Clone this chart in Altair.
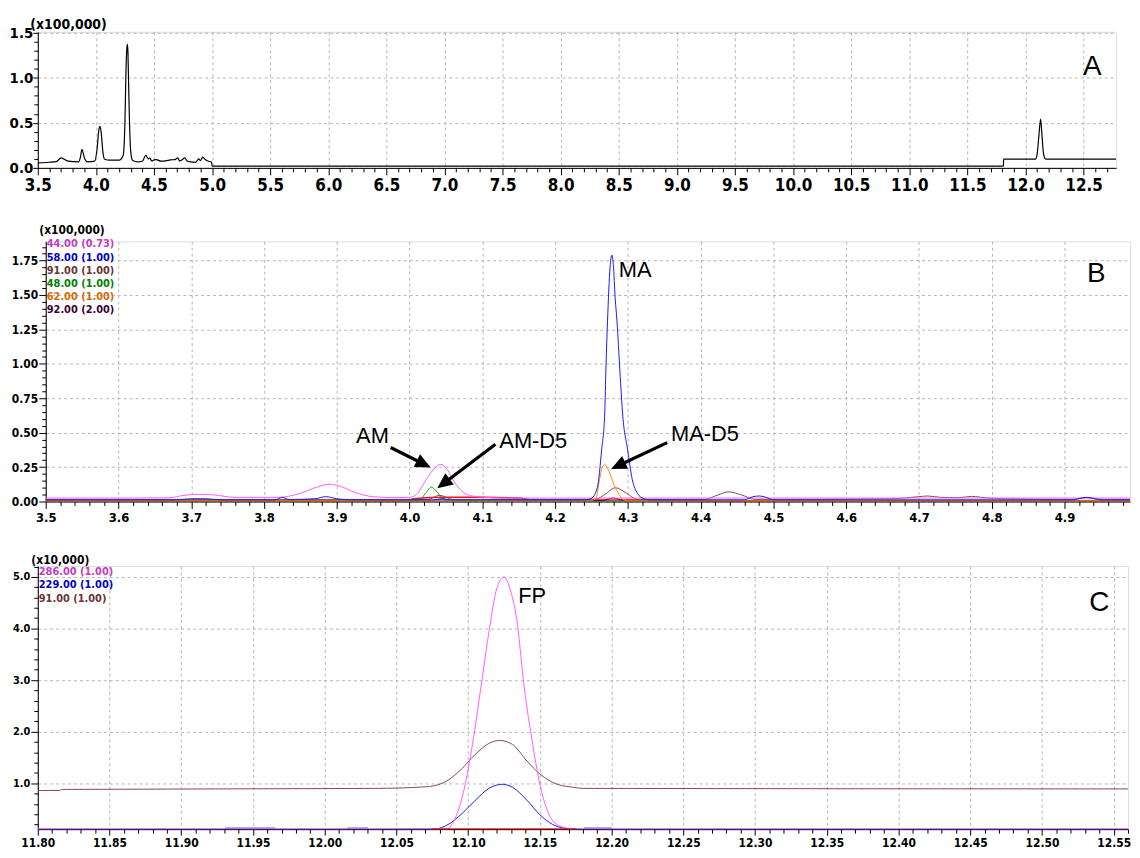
import math
import altair as alt
import pandas as pd

NARROW = "Liberation Sans Narrow, DejaVu Sans Condensed, Arial Narrow, Liberation Sans, sans-serif"
ARIAL = "Liberation Sans, Arial, Helvetica, sans-serif"

# ---------------- Panel A : TIC (x100,000) ----------------
A_TIME = [3.50, 3.60, 3.66, 3.70, 3.76, 3.85, 3.867, 3.88, 3.893, 3.905,
          3.93, 3.99, 4.01, 4.025, 4.034, 4.045, 4.06, 4.075, 4.12, 4.20,
          4.235, 4.25, 4.258, 4.266, 4.271, 4.276, 4.282, 4.29, 4.30, 4.315,
          4.36, 4.40, 4.43, 4.45, 4.465, 4.48, 4.50, 4.52, 4.56, 4.60,
          4.64, 4.68, 4.705, 4.72, 4.74, 4.765, 4.785, 4.82, 4.86, 4.885,
          4.90, 4.92, 4.94, 4.97, 4.995, 5.00, 11.81, 11.812, 12.085, 12.10,
          12.115, 12.13, 12.14, 12.155, 12.17, 12.18, 12.78]
A_INT = [0.055, 0.062, 0.07, 0.11, 0.074, 0.066, 0.12, 0.206, 0.15, 0.096,
         0.066, 0.074, 0.21, 0.415, 0.46, 0.40, 0.18, 0.096, 0.085, 0.085,
         0.14, 0.51, 1.02, 1.32, 1.37, 1.28, 0.91, 0.47, 0.18, 0.085,
         0.066, 0.074, 0.14, 0.10, 0.11, 0.077, 0.088, 0.092, 0.074, 0.077,
         0.088, 0.092, 0.11, 0.077, 0.088, 0.11, 0.077, 0.066, 0.062, 0.10,
         0.08, 0.12, 0.092, 0.074, 0.066, 0.02, 0.02, 0.096, 0.096, 0.15,
         0.35, 0.54, 0.40, 0.16, 0.10, 0.096, 0.096]

# ---------------- Panel B : SIM traces (x100,000) ----------------
B44_T = [3.50, 3.62, 3.67, 3.69, 3.71, 3.73, 3.76, 3.82, 3.85, 3.87,
         3.89, 3.905, 3.925, 3.95, 3.98, 4.00, 4.009, 4.023, 4.034, 4.043,
         4.052, 4.061, 4.073, 4.086, 4.105, 4.13, 4.99]
B44_V = [0.025, 0.025, 0.027, 0.045, 0.052, 0.048, 0.03, 0.03, 0.06, 0.10,
         0.125, 0.11, 0.065, 0.035, 0.028, 0.03, 0.05, 0.16, 0.24, 0.27,
         0.23, 0.145, 0.07, 0.04, 0.03, 0.025, 0.025]

B58_T = [3.50, 3.68, 3.70, 3.72, 3.74, 3.815, 3.825, 3.835, 3.87, 3.885,
         3.90, 3.92, 4.24, 4.249, 4.258, 4.264, 4.268, 4.270, 4.272, 4.2755,
         4.278, 4.280, 4.2825, 4.285, 4.289, 4.293, 4.2995, 4.306, 4.313, 4.322,
         4.33, 4.46, 4.472, 4.481, 4.49, 4.50, 4.91, 4.93, 4.95, 4.99]
B58_V = [0.012, 0.012, 0.02, 0.02, 0.012, 0.012, 0.03, 0.014, 0.02, 0.035,
         0.02, 0.012, 0.012, 0.02, 0.10, 0.38, 0.62, 1.00, 1.31, 1.70,
         1.79, 1.72, 1.48, 1.31, 0.95, 0.62, 0.38, 0.16, 0.06, 0.02,
         0.012, 0.012, 0.035, 0.04, 0.03, 0.012, 0.012, 0.03, 0.012, 0.012]

B91_T = [3.50, 4.025, 4.041, 4.06, 4.255, 4.268, 4.283, 4.298, 4.313, 4.405,
         4.425, 4.438, 4.455, 4.475, 4.66, 4.70, 4.712, 4.73, 4.755, 4.772,
         4.795, 4.84, 4.91, 4.93, 4.955, 4.99]
B91_V = [0.015, 0.015, 0.045, 0.015, 0.015, 0.05, 0.10, 0.06, 0.015, 0.015,
         0.05, 0.07, 0.05, 0.015, 0.02, 0.035, 0.04, 0.03, 0.028, 0.037,
         0.025, 0.018, 0.015, 0.028, 0.015, 0.015]

B48_T = [3.50, 4.012, 4.022, 4.030, 4.036, 4.045, 4.052, 4.99]
B48_V = [0.003, 0.003, 0.06, 0.105, 0.08, 0.025, 0.003, 0.003]

B62_T = [3.50, 4.245, 4.256, 4.261, 4.265, 4.268, 4.274, 4.281, 4.288, 4.295, 4.30, 4.99]
B62_V = [0.005, 0.005, 0.02, 0.16, 0.25, 0.27, 0.22, 0.12, 0.05, 0.01, 0.005, 0.005]

B92_T = [3.50, 4.03, 4.045, 4.06, 4.265, 4.28, 4.295, 4.99]
B92_V = [0.008, 0.008, 0.02, 0.008, 0.008, 0.025, 0.008, 0.008]

BRED_T = [3.50, 3.995, 4.005, 4.05, 4.10, 4.15, 4.17, 4.24, 4.35, 4.36, 4.99]
BRED_V = [0.0, 0.0, 0.02, 0.03, 0.03, 0.025, 0.01, 0.01, 0.01, 0.0, 0.0]

B_LEGEND = ["44.00 (0.73)", "58.00 (1.00)", "91.00 (1.00)", "48.00 (1.00)", "62.00 (1.00)", "92.00 (2.00)"]
B_LEGEND_COLORS = ["#c23cc2", "#0000c8", "#6a3434", "#008000", "#d86a00", "#3a003a"]

B_LABELS = ["MA", "AM", "AM-D5", "MA-D5"]
B_LABEL_T = [4.310, 3.949, 4.170, 4.406]
B_LABEL_V = [1.685, 0.476, 0.44, 0.488]

B_ARROW_FROM_T = [3.974, 4.118, 4.354]
B_ARROW_FROM_V = [0.392, 0.416, 0.428]
B_ARROW_TO_T = [4.029, 4.038, 4.277]
B_ARROW_TO_V = [0.247, 0.096, 0.236]

# ---------------- Panel C : SIM traces (x10,000) ----------------
C286_T = [11.80, 12.085, 12.091, 12.097, 12.103, 12.109, 12.115, 12.120, 12.125, 12.129,
          12.134, 12.139, 12.145, 12.151, 12.157, 12.164, 12.174, 12.56]
C286_V = [0.115, 0.115, 0.32, 0.86, 1.75, 2.88, 4.02, 4.78, 5.00, 4.78,
          4.15, 2.88, 1.75, 0.86, 0.36, 0.17, 0.115, 0.115]

C229_T = [11.80, 11.93, 11.931, 11.965, 11.966, 12.015, 12.016, 12.03, 12.031, 12.077,
          12.086, 12.096, 12.105, 12.115, 12.124, 12.131, 12.141, 12.15, 12.159, 12.171,
          12.18, 12.181, 12.20, 12.201, 12.56]
C229_V = [0.11, 0.11, 0.13, 0.13, 0.11, 0.11, 0.13, 0.13, 0.11, 0.115,
          0.20, 0.42, 0.67, 0.91, 0.98, 0.92, 0.67, 0.39, 0.20, 0.115,
          0.11, 0.13, 0.13, 0.11, 0.11]

C91_T = [11.80, 11.815, 11.817, 12.035, 12.07, 12.082, 12.093, 12.105, 12.115, 12.122,
         12.131, 12.141, 12.15, 12.162, 12.174, 12.18, 12.56]
C91_V = [0.86, 0.86, 0.88, 0.90, 0.93, 1.00, 1.21, 1.56, 1.78, 1.83,
         1.75, 1.43, 1.18, 0.98, 0.92, 0.90, 0.89]

CRED_T = [12.075, 12.175]
CRED_V = [0.115, 0.115]

C_LEGEND = ["286.00 (1.00)", "229.00 (1.00)", "91.00 (1.00)"]
C_LEGEND_COLORS = ["#c23cc2", "#0000c8", "#6a3434"]

C_LABELS = ["FP"]
C_LABEL_T = [12.1446]
C_LABEL_V = [4.62]

# ---------------- colours ----------------
MAGENTA = "#ff5cff"
BLUE = "#1a1aff"
BROWN = "#8a4a4a"
GREEN = "#00a000"
ORANGE = "#ff8a10"
PURPLE = "#4a004a"
RED = "#ff1010"

# ---------------- geometry ----------------
A_W, A_H = 1086, 137
B_W, B_H = 1092, 262
C_W, C_H = 1098, 265
GAP_AB = 74
GAP_BC = 65
A_XDOM, A_YDOM = [3.5, 12.78], [0.0, 1.51]
B_XDOM, B_YDOM = [3.5, 4.99], [0.0, 1.89]
C_XDOM, C_YDOM = [11.8, 12.56], [0.11, 5.21]


def ticks(start, stop, step):
    n = int(round((stop - start) / step))
    return [round(start + i * step, 4) for i in range(n + 1)]


def make_axis(values, mult, fmt, fs, pad, title=None, tx=0, ty=0, tfs=12, major_tick=7):
    major = f"abs(datum.value*{mult} - round(datum.value*{mult})) < 0.001"
    kw = dict(
        values=values,
        labelExpr=f"({major}) ? format(datum.value, '{fmt}') : ''",
        tickSize={"condition": {"test": major, "value": major_tick}, "value": 4},
        gridOpacity={"condition": {"test": major, "value": 1}, "value": 0},
        labelFont=NARROW, labelFontSize=fs, labelFontWeight="bold", labelColor="black",
        labelOverlap=False, labelFlush=False, labelBound=False, labelPadding=pad,
        tickColor="black", tickWidth=1, domainColor="black", domainWidth=1,
        grid=True, gridColor="#b5b5b5", gridDash=[3, 3], gridWidth=1,
    )
    if title:
        kw.update(title=title, titleAngle=0, titleX=tx, titleY=ty, titleAlign="left",
                  titleBaseline="alphabetic", titleFont=NARROW, titleFontSize=tfs,
                  titleFontWeight="bold", titleColor="black", titlePadding=0)
    else:
        kw.update(title=None)
    return alt.Axis(**kw)


def series_df(ts, vs):
    return pd.DataFrame({"t": list(ts)[:len(vs)], "v": list(vs)[:len(ts)]})


def panel(xdom, ydom, xaxis, yaxis, series, W, H, legend, legend_colors, leg_y0, leg_dy,
          letter, letter_xy, labels=None, arrows=None, label_fs=22):
    xs = alt.Scale(domain=xdom, nice=False, zero=False)
    ys = alt.Scale(domain=ydom, nice=False, zero=False)
    X = alt.X("t:Q", scale=xs, axis=xaxis)
    Y = alt.Y("v:Q", scale=ys, axis=yaxis)
    layers = []
    for ts, vs, col, sw in series:
        layers.append(
            alt.Chart(series_df(ts, vs)).mark_line(color=col, strokeWidth=sw,
                                                   interpolate="monotone", clip=True)
            .encode(x=X, y=Y)
        )
    if arrows is not None:
        ft, fv, tt, tv = arrows
        pxx = W / (xdom[1] - xdom[0])
        pxy = H / (ydom[1] - ydom[0])
        rows = []
        for a, b, c, d in zip(ft, fv, tt, tv):
            dx = (c - a) * pxx
            dy = -(d - b) * pxy
            L = math.hypot(dx, dy)
            ang = math.degrees(math.atan2(dx, -dy)) % 360
            back = 13.0 / L
            rows.append({"t": a, "v": b,
                         "t2": c - (c - a) * back, "v2": d - (d - b) * back,
                         "tt": c, "tv": d, "ang": ang})
        adf = pd.DataFrame(rows)
        layers.append(
            alt.Chart(adf).mark_rule(color="black", strokeWidth=3.2)
            .encode(x=X, y=Y, x2="t2:Q", y2="v2:Q")
        )
        layers.append(
            alt.Chart(adf).mark_point(shape="M0,0L-1,2.2L1,2.2Z", filled=True, color="black",
                                      opacity=1, size=200, strokeWidth=0)
            .encode(x=alt.X("tt:Q", scale=xs, axis=xaxis),
                    y=alt.Y("tv:Q", scale=ys, axis=yaxis),
                    angle=alt.Angle("ang:Q", scale=None))
        )
    if labels is not None:
        names, lt, lv = labels
        ldf = pd.DataFrame({"name": names, "t": lt, "v": lv})
        layers.append(
            alt.Chart(ldf).mark_text(font=ARIAL, fontSize=label_fs, color="black",
                                     align="center", baseline="middle")
            .encode(x=X, y=Y, text="name:N")
        )
    for i, (lab, col) in enumerate(zip(legend, legend_colors)):
        layers.append(
            alt.Chart(pd.DataFrame({"lab": [lab]})).mark_text(
                font=NARROW, fontSize=11, fontWeight="bold", color=col,
                align="left", baseline="middle")
            .encode(x=alt.value(1), y=alt.value(leg_y0 + i * leg_dy), text="lab:N")
        )
    layers.append(
        alt.Chart(pd.DataFrame({"lab": [letter]})).mark_text(
            font=ARIAL, fontSize=28, color="black", align="center", baseline="middle")
        .encode(x=alt.value(letter_xy[0]), y=alt.value(letter_xy[1]), text="lab:N")
    )
    return alt.layer(*layers).properties(width=W, height=H)


# ---------- Panel A ----------
a_xaxis = make_axis(ticks(3.5, 12.7, 0.1), 2, ".1f", 17, 3)
a_yaxis = make_axis(ticks(0.0, 1.5, 0.1), 2, ".1f", 15, 0, title="(x100,000)", tx=-8, ty=-3,
                    tfs=14, major_tick=5)
chartA = panel(A_XDOM, A_YDOM, a_xaxis, a_yaxis,
               [(A_TIME, A_INT, "#000000", 1.2)],
               A_W, A_H, [], [], 0, 0, "A", (1062, 35))

# ---------- Panel B ----------
b_xaxis = make_axis(ticks(3.5, 4.98, 0.02), 10, ".1f", 13, 3)
b_yaxis = make_axis(ticks(0.0, 1.85, 0.05), 4, ".2f", 12, 1, title="(x100,000)", tx=-7, ty=-8, tfs=12)
chartB = panel(B_XDOM, B_YDOM, b_xaxis, b_yaxis,
               [(BRED_T, BRED_V, RED, 1.5), (B48_T, B48_V, GREEN, 1.0),
                (B92_T, B92_V, PURPLE, 1.0), (B91_T, B91_V, BROWN, 1.0),
                (B44_T, B44_V, MAGENTA, 1.0), (B62_T, B62_V, ORANGE, 1.0),
                (B58_T, B58_V, BLUE, 1.0)],
               B_W, B_H, B_LEGEND, B_LEGEND_COLORS, 3, 13.3, "B", (1058, 33),
               labels=(B_LABELS, B_LABEL_T, B_LABEL_V),
               arrows=(B_ARROW_FROM_T, B_ARROW_FROM_V, B_ARROW_TO_T, B_ARROW_TO_V))

# ---------- Panel C ----------
c_xaxis = make_axis(ticks(11.8, 12.56, 0.01), 20, ".2f", 12, 2, major_tick=6)
c_yaxis = make_axis(ticks(0.2, 5.2, 0.2), 1, ".1f", 11, 1, title="(x10,000)", tx=-7, ty=-3, tfs=12)
chartC = panel(C_XDOM, C_YDOM, c_xaxis, c_yaxis,
               [(C91_T, C91_V, BROWN, 1.0), (C229_T, C229_V, BLUE, 1.0),
                (C286_T, C286_V, MAGENTA, 1.0), (CRED_T, CRED_V, RED, 1.5)],
               C_W, C_H, C_LEGEND, C_LEGEND_COLORS, 6, 13.5, "C", (1069, 37),
               labels=(C_LABELS, C_LABEL_T, C_LABEL_V))


def blank(w, h):
    return (alt.Chart(pd.DataFrame({"s": [0]})).mark_point(opacity=0)
            .encode(x=alt.value(0), y=alt.value(0))
            .properties(width=w, height=h, view=alt.ViewBackground(stroke="transparent")))


# B is shifted 8px to the right by a blank column; a nested concat counts as zero height
# in a flush layout, so a blank row of the remaining height keeps C in place.
rowB = alt.hconcat(blank(1, B_H), chartB, spacing=7, bounds="flush")
gap = blank(1, B_H + GAP_BC - 2 * GAP_AB)
chart = (alt.vconcat(chartA, rowB, gap, chartC, spacing=GAP_AB, bounds="flush")
         .properties(padding={"left": 0, "top": 6, "right": 0, "bottom": 0})
         .configure_view(stroke="#000000", strokeWidth=1)
         .configure(background="white"))

chart.save("out.html", embed_options={"renderer": "svg", "actions": False})
